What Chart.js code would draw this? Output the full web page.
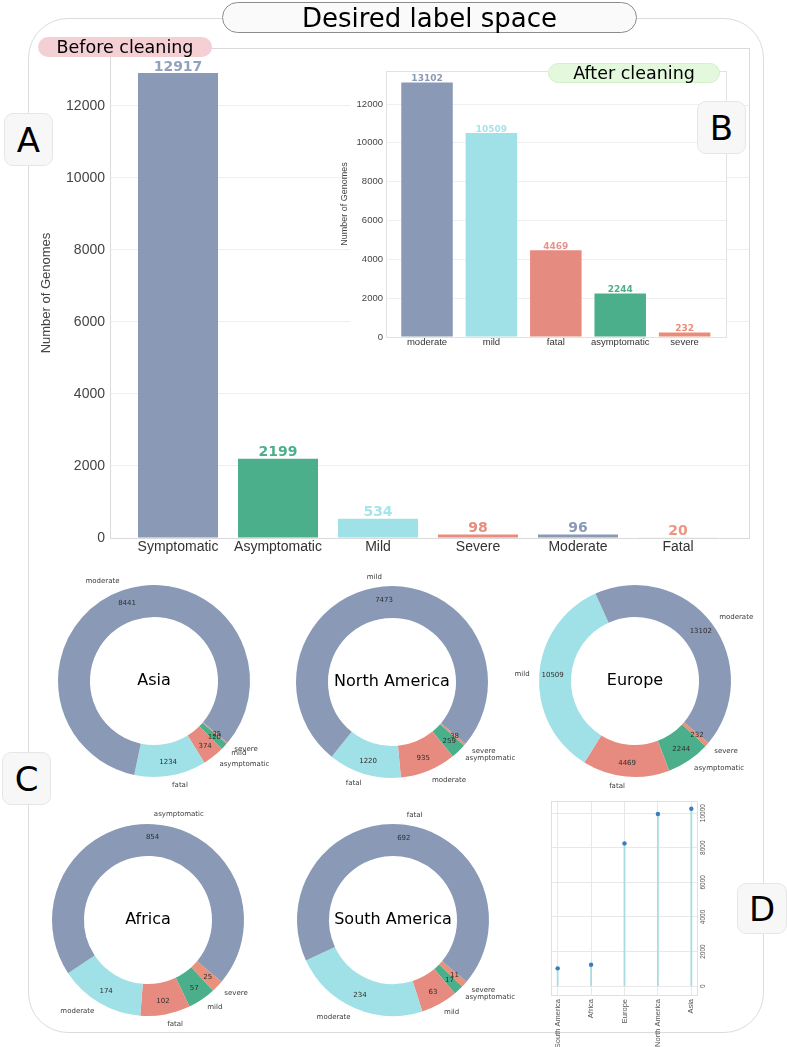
<!DOCTYPE html>
<html><head><meta charset="utf-8">
<script src="https://cdn.jsdelivr.net/npm/chart.js@4.4.1/dist/chart.umd.min.js"></script>
<style>
html,body{margin:0;padding:0;background:#fff;}
body{width:787px;height:1047px;overflow:hidden;position:relative;font-family:'DejaVu Sans',sans-serif;}
canvas{position:absolute;}
.box{position:absolute;box-sizing:border-box;display:flex;align-items:center;justify-content:center;color:#000;}
#outer{left:28px;top:18px;width:736px;height:1015px;border:1.5px solid #dcdcdc;border-radius:40px;}
#title{left:222px;top:2px;width:415px;height:31px;border:1px solid #8c8c8c;border-radius:16px;background:#fafafa;font-size:26px;z-index:5;}
#before{left:38px;top:37px;width:174px;height:20px;background:#f4d0d4;border-radius:10px;font-size:17.5px;z-index:5;}
#after{left:548px;top:63px;width:172px;height:20px;background:#e3f8dc;border:1px solid #d3f0c8;border-radius:10px;font-size:17.5px;z-index:5;}
.letter{width:49px;height:53px;background:#f7f7f7;border:1px solid #e6e6e6;border-radius:9px;font-size:34px;z-index:5;}
#lA{left:4px;top:113px;}
#lB{left:697px;top:101px;}
#lC{left:2px;top:752px;}
#lD{left:737px;top:883px;width:50px;height:51px;}
</style></head>
<body>
<div id="outer" class="box"></div>
<canvas id="cA" width="787" height="570" style="left:0;top:0;z-index:1"></canvas>
<canvas id="cB" width="410" height="300" style="left:330px;top:60px;z-index:2"></canvas>
<canvas id="dAsia" width="340" height="250" style="z-index:1"></canvas>
<canvas id="dNA" width="340" height="250" style="z-index:1"></canvas>
<canvas id="dEurope" width="340" height="250" style="z-index:1"></canvas>
<canvas id="dAfrica" width="340" height="250" style="z-index:1"></canvas>
<canvas id="dSA" width="340" height="250" style="z-index:1"></canvas>
<canvas id="cD" width="257" height="257" style="left:530px;top:790px;z-index:1"></canvas>
<div id="title" class="box">Desired label space</div>
<div id="before" class="box">Before cleaning</div>
<div id="after" class="box">After cleaning</div>
<div id="lA" class="box letter">A</div>
<div id="lB" class="box letter">B</div>
<div id="lC" class="box letter">C</div>
<div id="lD" class="box letter">D</div>
<script>
// ---------- data ----------
const beforeCategories = ['Symptomatic','Asymptomatic','Mild','Severe','Moderate','Fatal'];
const beforeValues = [12917, 2199, 534, 98, 96, 20];
const afterCategories = ['moderate','mild','fatal','asymptomatic','severe'];
const afterValues = [13102, 10509, 4469, 2244, 232];
const barTicks = [0, 2000, 4000, 6000, 8000, 10000, 12000];

const asiaLabels = ['moderate','fatal','asymptomatic','mild','severe'];
const asiaValues = [8441, 1234, 374, 120, 25];
const northAmericaLabels = ['mild','fatal','moderate','asymptomatic','severe'];
const northAmericaValues = [7473, 1220, 935, 259, 38];
const europeLabels = ['moderate','mild','fatal','asymptomatic','severe'];
const europeValues = [13102, 10509, 4469, 2244, 232];
const africaLabels = ['asymptomatic','moderate','fatal','mild','severe'];
const africaValues = [854, 174, 102, 57, 25];
const southAmericaLabels = ['fatal','moderate','mild','asymptomatic','severe'];
const southAmericaValues = [692, 234, 63, 17, 11];

const regionNames = ['South America','Africa','Europe','North America','Asia'];
const regionValues = [1030, 1240, 8250, 9950, 10250];
const lollipopTicks = [0, 2000, 4000, 6000, 8000, 10000];

// ---------- styles ----------
const AX = "'Liberation Sans', Arial, sans-serif";
const DJ = "'DejaVu Sans', sans-serif";
const beforeBarColors = ['#8a9ab6','#4caf8b','#a0e1e7','#e98c7e','#8a9ab6','#f2d3c8'];
const beforeLabelColors = ['#92a2be','#4caf8b','#a6e4ea','#e98c7e','#8a9ab6','#eb977f'];
const afterBarColors = ['#8a9ab6','#a0e1e7','#e58b80','#4caf8b','#e98c7a'];
const afterLabelColors = ['#8a9ab6','#a6e4ea','#e8928a','#4caf8b','#e98f7c'];
const donutColors = ['#8a9ab6','#a0e1e7','#e78b80','#4caf8b','#e9917a'];

Chart.defaults.animation = false;
Chart.defaults.responsive = false;
Chart.defaults.devicePixelRatio = 1;

// ---------- plugins ----------
const valueLabelPlugin = {
  id: 'valueLabels',
  afterDatasetsDraw(chart, args, opts) {
    const ctx = chart.ctx, meta = chart.getDatasetMeta(0);
    ctx.save();
    ctx.font = opts.font; ctx.textAlign = 'center'; ctx.textBaseline = 'bottom';
    meta.data.forEach((bar, i) => {
      ctx.fillStyle = opts.colors[i];
      ctx.fillText(String(chart.data.datasets[0].data[i].y), bar.x, bar.y + opts.dy);
    });
    ctx.restore();
  }
};
const framePlugin = {
  id: 'frame',
  beforeDatasetsDraw(chart, args, opts) {
    const {left, top, right, bottom} = chart.chartArea, ctx = chart.ctx;
    ctx.save(); ctx.strokeStyle = opts.color; ctx.lineWidth = 1;
    ctx.strokeRect(Math.round(left) + 0.5, Math.round(top) + 0.5, Math.round(right - left) - 1, Math.round(bottom - top));
    ctx.restore();
  }
};
const whiteBgPlugin = {
  id: 'whiteBg',
  beforeDraw(chart, args, opts) {
    const ctx = chart.ctx;
    ctx.save(); ctx.fillStyle = '#fff';
    ctx.fillRect(opts.x, 0, chart.chartArea.right - opts.x, opts.h);
    ctx.restore();
  }
};
const donutTextPlugin = {
  id: 'donutText',
  afterDatasetsDraw(chart, args, opts) {
    const ctx = chart.ctx, meta = chart.getDatasetMeta(0);
    const data = chart.data.datasets[0].data, labels = chart.data.labels;
    ctx.save();
    ctx.textBaseline = 'middle';
    meta.data.forEach((arc, i) => {
      const a = (arc.startAngle + arc.endAngle) / 2, R = arc.outerRadius;
      const c = Math.cos(a), s = Math.sin(a);
      ctx.font = '7px ' + DJ; ctx.fillStyle = '#3a3a3a';
      ctx.textAlign = c < 0 ? 'right' : 'left';
      ctx.fillText(labels[i], arc.x + c * R * 1.1, arc.y + s * R * 1.1);
      ctx.textAlign = 'center'; ctx.fillStyle = '#2e2e2e';
      ctx.fillText(String(data[i]), arc.x + c * R * 0.86, arc.y + s * R * 0.86);
    });
    const a0 = meta.data[0];
    ctx.font = '16px ' + DJ; ctx.fillStyle = '#000'; ctx.textAlign = 'center';
    ctx.fillText(opts.name, a0.x, a0.y);
    ctx.restore();
  }
};
const rotatedYTicksPlugin = {
  id: 'rotYTicks',
  afterDraw(chart, args, opts) {
    const ctx = chart.ctx, ys = chart.scales.y, xr = chart.chartArea.right;
    ctx.save(); ctx.font = opts.font; ctx.fillStyle = opts.color;
    ctx.textAlign = 'center'; ctx.textBaseline = 'middle';
    ys.ticks.forEach(t => {
      const y = ys.getPixelForValue(t.value);
      ctx.save(); ctx.translate(xr + opts.dx, y); ctx.rotate(-Math.PI / 2);
      ctx.fillText(String(t.value), 0, 0); ctx.restore();
    });
    ctx.restore();
  }
};

// ---------- Panel A ----------
new Chart(document.getElementById('cA'), {
  type: 'bar',
  data: { datasets: [{
    data: beforeValues.map((v, i) => ({x: i, y: v})),
    backgroundColor: beforeBarColors, borderWidth: 0,
    categoryPercentage: 0.8, barPercentage: 1
  }]},
  options: {
    layout: { padding: { left: 30, top: 48, right: 37, bottom: 0 } },
    plugins: {
      legend: {display: false}, tooltip: {enabled: false},
      valueLabels: { font: 'bold 14px ' + DJ, colors: beforeLabelColors, dy: 1 },
      frame: { color: '#dadada' }
    },
    scales: {
      x: {
        type: 'linear', min: -0.68, max: 5.72, offset: false,
        afterBuildTicks: s => { s.ticks = beforeCategories.map((_, i) => ({value: i})); },
        afterFit: s => { s.height = 32; },
        grid: {display: false, drawTicks: false, offset: false}, border: {display: false},
        ticks: { callback: v => beforeCategories[v], autoSkip: false, maxRotation: 0,
                 font: {family: AX, size: 14}, color: '#333', padding: 1 }
      },
      y: {
        min: 0, max: 13611,
        afterBuildTicks: s => { s.ticks = barTicks.map(v => ({value: v})); },
        afterFit: s => { s.width = 80; },
        grid: {color: '#efefef', drawTicks: false}, border: {display: false},
        ticks: { callback: v => String(v), font: {family: AX, size: 14}, color: '#444', padding: 5 },
        title: { display: true, text: 'Number of Genomes', font: {family: AX, size: 13}, color: '#444', padding: {top: 9, bottom: 0} }
      }
    }
  },
  plugins: [valueLabelPlugin, framePlugin]
});

// ---------- Panel B ----------
new Chart(document.getElementById('cB'), {
  type: 'bar',
  data: { datasets: [{
    data: afterValues.map((v, i) => ({x: i, y: v})),
    backgroundColor: afterBarColors, borderWidth: 0,
    categoryPercentage: 0.8, barPercentage: 1
  }]},
  options: {
    layout: { padding: { left: 6, top: 11, right: 13, bottom: 0 } },
    plugins: {
      legend: {display: false}, tooltip: {enabled: false},
      valueLabels: { font: 'bold 9px ' + DJ, colors: afterLabelColors, dy: 1 },
      frame: { color: '#e2e2e2' },
      whiteBg: { x: 20, h: 295 }
    },
    scales: {
      x: {
        type: 'linear', min: -0.637, max: 4.658, offset: false,
        afterBuildTicks: s => { s.ticks = afterCategories.map((_, i) => ({value: i})); },
        afterFit: s => { s.height = 23; },
        grid: {display: false, drawTicks: false, offset: false}, border: {display: false},
        ticks: { callback: v => afterCategories[v], autoSkip: false, maxRotation: 0,
                 font: {family: AX, size: 9.5}, color: '#333', padding: 0 }
      },
      y: {
        min: 0, max: 13700,
        afterBuildTicks: s => { s.ticks = barTicks.map(v => ({value: v})); },
        afterFit: s => { s.width = 50; },
        grid: {color: '#efefef', drawTicks: false}, border: {display: false},
        ticks: { callback: v => String(v), font: {family: AX, size: 9.5}, color: '#444', padding: 3 },
        title: { display: true, text: 'Number of Genomes', font: {family: AX, size: 9}, color: '#444', padding: {top: 3.6, bottom: 0} }
      }
    }
  },
  plugins: [whiteBgPlugin, valueLabelPlugin, framePlugin]
});

// ---------- Panel C (donuts) ----------
function donut(id, name, labels, values, cx, cy) {
  const el = document.getElementById(id);
  const W = el.width, H = el.height, D = 192;
  el.style.left = (cx - W / 2) + 'px';
  el.style.top = (cy - H / 2) + 'px';
  new Chart(el, {
    type: 'doughnut',
    data: {
      labels: labels.slice().reverse(),
      datasets: [{ data: values.slice().reverse(), backgroundColor: donutColors.slice().reverse(), borderWidth: 0 }]
    },
    options: {
      rotation: 130, cutout: '66.7%',
      layout: { padding: { left: (W - D) / 2, right: (W - D) / 2, top: (H - D) / 2, bottom: (H - D) / 2 } },
      plugins: { legend: {display: false}, tooltip: {enabled: false}, donutText: { name } }
    },
    plugins: [donutTextPlugin]
  });
}
donut('dAsia', 'Asia', asiaLabels, asiaValues, 153.5, 681);
donut('dNA', 'North America', northAmericaLabels, northAmericaValues, 392, 682);
donut('dEurope', 'Europe', europeLabels, europeValues, 635, 680.5);
donut('dAfrica', 'Africa', africaLabels, africaValues, 147.5, 919.5);
donut('dSA', 'South America', southAmericaLabels, southAmericaValues, 392.5, 919.5);

// ---------- Panel D (lollipop) ----------
new Chart(document.getElementById('cD'), {
  type: 'bar',
  data: { datasets: [
    { type: 'scatter', data: regionValues.map((v, i) => ({x: i, y: v})), pointRadius: 2.2,
      pointBackgroundColor: '#3a7dbd', pointBorderWidth: 0, showLine: false, order: 0 },
    { type: 'bar', data: regionValues.map((v, i) => ({x: i, y: v})), backgroundColor: '#a9dde1',
      barThickness: 1.2, borderWidth: 0, order: 1 }
  ]},
  options: {
    layout: { padding: { left: 21, top: 11, right: 0, bottom: 0 } },
    plugins: {
      legend: {display: false}, tooltip: {enabled: false},
      frame: { color: '#e0e0e0' },
      rotYTicks: { font: '6.5px ' + AX, color: '#555', dx: 5 }
    },
    scales: {
      x: {
        type: 'linear', min: -0.2, max: 4.2, offset: false,
        afterBuildTicks: s => { s.ticks = regionNames.map((_, i) => ({value: i})); },
        afterFit: s => { s.height = 52; },
        grid: {color: '#e8e8e8', drawTicks: false, offset: false}, border: {display: false},
        ticks: { callback: v => regionNames[v], autoSkip: false, minRotation: 90, maxRotation: 90,
                 font: {family: AX, size: 7.5}, color: '#555', padding: 4 }
      },
      y: {
        position: 'right', min: -510, max: 10700,
        afterBuildTicks: s => { s.ticks = lollipopTicks.map(v => ({value: v})); },
        afterFit: s => { s.width = 89; },
        grid: {color: '#e8e8e8', drawTicks: false}, border: {display: false},
        ticks: { display: false }
      }
    }
  },
  plugins: [framePlugin, rotatedYTicksPlugin]
});
</script>
</body></html>
